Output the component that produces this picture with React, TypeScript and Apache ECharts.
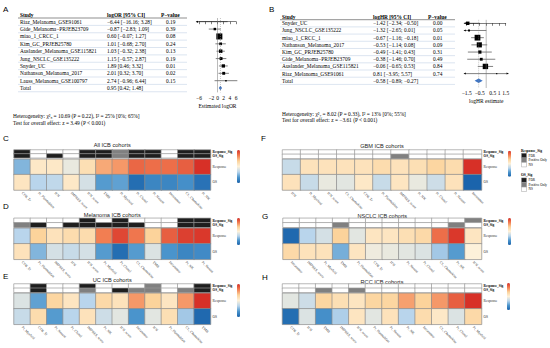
import React, { useEffect, useRef } from 'react';
import * as echarts from 'echarts';

// ---------- Panel A data (logOR) ----------
const studiesA = ['Riaz_Melanoma_GSE91061', 'Gide_Melanoma−PRJEB23709', 'miao_1_CRCC_1', 'Kim_GC_PRJEB25780', 'Auslander_Melanoma_GSE115821', 'Jung_NSCLC_GSE135222', 'Snyder_UC', 'Nathanson_Melanoma_2017', 'Lauss_Melanoma_GSE100797'];
const estA = [-6.44, -0.87, 0.6, 1.01, 1.03, 1.15, 1.89, 2.01, 2.74];
const loA = [-16.16, -2.83, -0.07, -0.68, -0.32, -0.57, 0.46, 0.32, -0.96];
const hiA = [3.28, 1.09, 1.27, 2.7, 2.38, 2.87, 3.32, 3.7, 6.44];
const pA = ['0.19', '0.39', '0.08', '0.24', '0.13', '0.19', '0.01', '0.02', '0.15'];
const weightA = [1, 5, 30, 6, 10, 7, 9, 7, 2];
const totalA = [0.95, 0.42, 1.48];
const hetA = 'Heterogeneity: χ²₈ = 10.69 (P = 0.22), I² = 25% [0%; 65%]';
const testA = 'Test for overall effect: z = 3.49 (P < 0.001)';

// ---------- Panel B data (logHR) ----------
const studiesB = ['Snyder_UC', 'Jung_NSCLC_GSE135222', 'miao_1_CRCC_1', 'Nathanson_Melanoma_2017', 'Kim_GC_PRJEB25780', 'Gide_Melanoma−PRJEB23709', 'Auslander_Melanoma_GSE115821', 'Riaz_Melanoma_GSE91061'];
const estB = [-1.42, -1.32, -0.67, -0.53, -0.49, -0.38, -0.06, 0.81];
const loB = [-2.34, -2.65, -1.16, -1.14, -1.41, -1.46, -0.65, -3.95];
const hiB = [-0.5, 0.01, -0.18, 0.08, 0.43, 0.7, 0.53, 5.57];
const pB = ['0.00', '0.05', '0.01', '0.09', '0.31', '0.49', '0.84', '0.74'];
const weightB = [9, 3, 25, 20, 8, 6, 22, 1];
const totalB = [-0.58, -0.89, -0.27];
const hetB = 'Heterogeneity: χ²₇ = 8.02 (P = 0.33), I² = 13% [0%; 55%]';
const testB = 'Test for overall effect: z = −3.61 (P < 0.001)';

// ---------- Heatmap data ----------
// significance: 0 = NS, 1 = Positive Only, 2 = FDR
const labelsC = ['CD8_Tr', 'Pt_Plasmablast', 'IFN', 'IMPRES_score', 'IFN_score', 'TMB', 'Pt_Myeloid', 'Pt_Clonal', 'Pt_Neoant', 'Intratumor', 'CL_Chemokine', 'Pt_NK'];
const respC = [-1.5, 0.3, 0.3, -0.3, 0.6, 1.5, 1.7, 2.3, 2.2, 2.2, 2.4, 3];
const osC = [0.4, -1, -0.9, 0.3, -0.6, -1.9, -1.8, -2.8, -2.3, -2.3, -2.1, -2.7];
const rsigC = [2, 0, 0, 0, 2, 2, 1, 2, 2, 0, 2, 2];
const osigC = [2, 0, 2, 0, 2, 2, 1, 2, 2, 0, 2, 2];

const labelsD = ['CD8_Tr', 'Pt_Plasmablast', 'IMPRES_score', 'IFN', 'IFN_score', 'Pt_Myeloid', 'Pt_Clonal', 'CL_Chemokine', 'TMB', 'Intratumor', 'Pt_NK', 'Pt_Neoant'];
const respD = [-1, 1, 0.5, 0.7, 0.7, 2, 2.7, 2.1, 1, 2.4, 2.8, 2.9];
const osD = [0.5, -1.5, -0.6, -0.8, -0.6, -1.9, -2.8, -1.9, -0.5, -2, -2.3, -2.2];
const rsigD = [0, 0, 0, 0, 2, 0, 2, 0, 0, 0, 2, 2];
const osigD = [1, 2, 0, 2, 2, 2, 2, 2, 0, 0, 2, 2];

const labelsE = ['Pt_Myeloid', 'CD8_Tr', 'Pt_Neoant', 'Pt_Clonal', 'IMPRES_score', 'Pt_NK', 'IFN_score', 'Intratumor', 'IFN', 'Pt_Plasmablast', 'CL_Chemokine', 'TMB'];
const respE = [-0.5, -1.8, 0.9, 0.4, -1, 0.8, 0.5, 1.7, 1, 0.4, 1.7, 3];
const osE = [-0.8, 0.7, -1.9, -1, 0.5, -0.7, -0.4, -2, -0.4, 0.6, -1.2, -2.9];
const rsigE = [0, 2, 0, 0, 2, 0, 0, 0, 1, 0, 0, 2];
const osigE = [0, 2, 0, 0, 1, 0, 2, 1, 1, 0, 1, 2];

const labelsF = ['IFN', 'Pt_Myeloid', 'IFN_score', 'CL_Chemokine', 'CD8_Tr', 'Pt_Plasmablast', 'IMPRES_score', 'Pt_NK', 'Pt_Clonal', 'Pt_Neoant', 'Intratumor'];
const respF = [-0.8, 0.5, 0.5, 0.5, 0.5, 0.7, 0.5, 0.6, 0.9, 0.7, 3];
const osF = [0.5, -0.8, -0.3, -0.4, 0.3, -0.8, 0.4, -0.3, -0.7, 0.5, -3];
const rsigF = [0, 0, 0, 0, 0, 0, 0, 0, 0, 0, 0];
const osigF = [0, 0, 0, 0, 0, 0, 1, 0, 0, 0, 0];

const labelsG = ['Intratumor', 'IMPRES_score', 'Pt_Myeloid', 'TMB', 'Pt_Plasmablast', 'CD8_Tr', 'IFN', 'Pt_Neoant', 'Pt_Clonal', 'CL_Chemokine', 'Pt_NK', 'IFN_score'];
const respG = [-2.9, -1, -0.6, 1, -0.4, 0.4, 0.4, 0.6, 0.8, 2.2, 2.9, 0.4];
const osG = [0.8, 0.5, 0.5, -1.6, 0.4, -0.2, -0.3, -0.4, -0.5, -1.2, -1.9, 0];
const rsigG = [0, 0, 0, 0, 0, 0, 0, 0, 0, 0, 0, 1];
const osigG = [0, 0, 0, 1, 0, 0, 0, 0, 0, 0, 1, 0];

const labelsH = ['CD8_Tr', 'IFN', 'TMB', 'IMPRES_score', 'IFN_score', 'Pt_Plasmablast', 'Pt_Neoant', 'Pt_NK', 'Intratumor', 'CL_Chemokine', 'Pt_Clonal', 'Pt_Myeloid'];
const respH = [-0.4, -0.7, 0.9, 0.6, 0.4, 0.9, 0.9, 1.6, 1, 1.7, 2.4, 3];
const osH = [-2.8, -0.5, -2.1, -1.1, 0.4, -0.4, 0.5, -1, 0.7, 0.3, -0.5, 0.8];
const rsigH = [0, 0, 0, 0, 0, 0, 0, 0, 0, 0, 0, 0];
const osigH = [0, 0, 1, 0, 1, 0, 0, 0, 0, 0, 0, 0];

const titles = ['All ICB cohorts', 'Melanoma ICB cohorts', 'UC ICB cohorts', 'GBM ICB cohorts', 'NSCLC ICB cohorts', 'RCC ICB cohorts'];
const sigNames = ['FDR', 'Positive Only', 'NS'];

const SERIF = 'Liberation Serif';
const SANS = 'Liberation Sans';
const heatColors = ['#1b64ac', '#4a94cc', '#b9d5ec', '#fdf1da', '#fcd39b', '#f27e52', '#d73027'];
const sigColors = ['#ffffff', '#808080', '#1e1e1e'];

const fmt = (v: number) => v.toFixed(2).replace('-', '−');

function buildOption() {
  const series: any[] = [];
  const grids: any[] = [];
  const xAxes: any[] = [];
  const yAxes: any[] = [];
  const graphics: any[] = [];
  const visualMaps: any[] = [];

  // ----- forest plots -----
  const forestDefs = [
    { studies: studiesA, est: estA, lo: loA, hi: hiA, p: pA, w: weightA, total: totalA, het: hetA, test: testA,
      left: 199, width: 37, top: 18, height: 74.5, yMax: 9.6, min: -6, max: 6, interval: 2, clipLo: -7, clipHi: 6.5,
      name: 'Estimated logOR', col: 'logOR [95% CI]', tx: [20, 107, 166], hx: [20, 107, 161], lineX: [18, 187],
      hetX: 13, hetY: [115.5, 123.3], letter: 'A', letterPos: [3, 5], sizeK: 1.1,
      hide: [-4] },
    { studies: studiesB, est: estB, lo: loB, hi: hiB, p: pB, w: weightB, total: totalB, het: hetB, test: testB,
      left: 466.7, width: 39, top: 19.7, height: 68.3, yMax: 9.0, min: -1.5, max: 1.5, interval: 0.5, clipLo: -1.72, clipHi: 1.72,
      name: 'logHR estimate', col: 'logHR [95% CI]', tx: [282, 373, 433], hx: [282, 373, 428], lineX: [280, 455],
      hetX: 282, hetY: [113.5, 120], letter: 'B', letterPos: [269, 5], sizeK: 1.15,
      hide: [-1, 0] },
  ];

  forestDefs.forEach((f, gi) => {
    const n = f.studies.length;
    grids.push({ left: f.left, top: f.top, width: f.width, height: f.height });
    xAxes.push({
      gridIndex: gi, type: 'value', min: f.min, max: f.max, interval: f.interval,
      axisLine: { lineStyle: { color: '#000', width: 0.5 } },
      axisTick: { length: 2.5, lineStyle: { color: '#000', width: 0.5 } },
      splitLine: { show: false },
      axisLabel: { fontSize: 5.5, fontFamily: SERIF, color: '#000', margin: 2,
        formatter: (v: number) => (f.hide.indexOf(v) >= 0 ? '' : String(v).replace('-', '−')) },
      name: f.name, nameLocation: 'middle', nameGap: 10,
      nameTextStyle: { fontSize: 5.5, fontFamily: SERIF, color: '#000' },
    });
    yAxes.push({ gridIndex: gi, type: 'value', min: -0.5, max: f.yMax, inverse: true, show: false });

    const rowY = (i: number) => f.top + (i + 0.5) / (f.yMax + 0.5) * f.height;
    const pitch = f.height / (f.yMax + 0.5);

    const data = f.studies.map((_, i) => [f.est[i], i, f.lo[i], f.hi[i], f.w[i]]);
    series.push({
      type: 'custom', xAxisIndex: gi, yAxisIndex: gi, silent: true, clip: false,
      encode: { x: [0, 2, 3], y: 1 },
      data,
      renderItem: (params: any, api: any) => {
        const est = api.value(0), row = api.value(1), lo = api.value(2), hi = api.value(3), w = api.value(4);
        const l = Math.max(lo, f.clipLo), h = Math.min(hi, f.clipHi);
        const p1 = api.coord([l, row]);
        const p2 = api.coord([h, row]);
        const pc = api.coord([est, row]);
        const s = Math.sqrt(w) * f.sizeK;
        const children: any[] = [
          { type: 'line', shape: { x1: p1[0], y1: p1[1], x2: p2[0], y2: p2[1] }, style: { stroke: '#000', lineWidth: 0.5 } },
          { type: 'rect', shape: { x: pc[0] - s / 2, y: pc[1] - s / 2, width: s, height: s }, style: { fill: '#000' } },
        ];
        if (lo < f.clipLo) children.push({ type: 'polygon', shape: { points: [[p1[0], p1[1]], [p1[0] + 2, p1[1] - 1], [p1[0] + 2, p1[1] + 1]] }, style: { fill: '#000' } });
        if (hi > f.clipHi) children.push({ type: 'polygon', shape: { points: [[p2[0], p2[1]], [p2[0] - 2, p2[1] - 1], [p2[0] - 2, p2[1] + 1]] }, style: { fill: '#000' } });
        return { type: 'group', children };
      },
    });
    series.push({
      type: 'custom', xAxisIndex: gi, yAxisIndex: gi, silent: true, clip: false,
      encode: { x: [0, 2, 3], y: 1 },
      data: [[f.total[0], n, f.total[1], f.total[2]]],
      renderItem: (params: any, api: any) => {
        const row = api.value(1);
        const a = api.coord([api.value(2), row]);
        const b = api.coord([api.value(0), row]);
        const c = api.coord([api.value(3), row]);
        return { type: 'polygon', shape: { points: [[a[0], a[1]], [b[0], b[1] - 2.2], [c[0], c[1]], [b[0], b[1] + 2.2]] }, style: { fill: '#3d74c4' } };
      },
    });
    series.push({ type: 'line', xAxisIndex: gi, yAxisIndex: gi, silent: true, symbol: 'none',
      data: [[0, -0.5], [0, f.yMax]], lineStyle: { color: '#777', width: 0.5 } });
    series.push({ type: 'line', xAxisIndex: gi, yAxisIndex: gi, silent: true, symbol: 'none',
      data: [[f.total[0], -0.5], [f.total[0], f.yMax]], lineStyle: { color: '#888', width: 0.5, type: [1, 1] } });

    // table
    const tStyle = (text: string, x: number, y: number, bold = false) => ({
      type: 'text', silent: true, x, y,
      style: { text, fontSize: 5.4, fontFamily: SERIF, fontWeight: bold ? 'bold' : 'normal', fill: '#000', align: 'left', verticalAlign: 'middle' },
    });
    const headY = f.top - 3;
    graphics.push(tStyle('Study', f.hx[0], headY, true));
    graphics.push(tStyle(f.col, f.hx[1], headY, true));
    graphics.push(tStyle('P−value', f.hx[2], headY, true));
    graphics.push({ type: 'line', silent: true, shape: { x1: f.lineX[0], y1: f.top, x2: f.lineX[1], y2: f.top }, style: { stroke: '#444', lineWidth: 0.6 } });
    for (let i = 0; i <= n; i++) {
      const y = rowY(i);
      if (i < n) {
        graphics.push(tStyle(f.studies[i], f.tx[0], y));
        graphics.push(tStyle(`${fmt(f.est[i])} [${fmt(f.lo[i])}; ${fmt(f.hi[i])}]`, f.tx[1], y));
        graphics.push(tStyle(f.p[i], f.tx[2], y));
      } else {
        graphics.push(tStyle('Total', f.tx[0], y));
        graphics.push(tStyle(`${fmt(f.total[0])} [${fmt(f.total[1])}; ${fmt(f.total[2])}]`, f.tx[1], y));
      }
      graphics.push({ type: 'line', silent: true, shape: { x1: f.lineX[0], y1: y + pitch / 2, x2: f.lineX[1], y2: y + pitch / 2 }, style: { stroke: '#b9cbe0', lineWidth: 0.5 } });
    }
    graphics.push(tStyle(f.het, f.hetX, f.hetY[0]));
    graphics.push(tStyle(f.test, f.hetX, f.hetY[1]));
    graphics.push({ type: 'text', silent: true, x: f.letterPos[0], y: f.letterPos[1],
      style: { text: f.letter, fontSize: 8, fontFamily: SANS, fill: '#000', align: 'left', verticalAlign: 'top' } });
  });

  // ----- heatmaps -----
  const panels = [
    { labels: labelsC, resp: respC, os: osC, rsig: rsigC, osig: osigC },
    { labels: labelsD, resp: respD, os: osD, rsig: rsigD, osig: osigD },
    { labels: labelsE, resp: respE, os: osE, rsig: rsigE, osig: osigE },
    { labels: labelsF, resp: respF, os: osF, rsig: rsigF, osig: osigF },
    { labels: labelsG, resp: respG, os: osG, rsig: rsigG, osig: osigG },
    { labels: labelsH, resp: respH, os: osH, rsig: rsigH, osig: osigH },
  ];
  const layouts = [
    { left: 14, width: 196.5, aTop: 150, aH: 7.8, mTop: 159.3, mH: 30.7, bar: [237, 150, 33], titleY: 145, letter: 'C', lp: [3, 134] },
    { left: 14, width: 196.5, aTop: 218.3, aH: 9, mTop: 228.3, mH: 31, bar: [237, 218, 27], titleY: 215, letter: 'D', lp: [3, 202] },
    { left: 14, width: 196.5, aTop: 284, aH: 8.5, mTop: 293.3, mH: 31, bar: [237, 284, 33], titleY: 279.5, letter: 'E', lp: [3, 272.5] },
    { left: 282.5, width: 199, aTop: 150, aH: 8.6, mTop: 159.3, mH: 30.7, bar: [508, 150.7, 26], titleY: 146, letter: 'F', lp: [261, 134] },
    { left: 283, width: 198.5, aTop: 218.3, aH: 9, mTop: 228.3, mH: 31, bar: [508, 218, 27], titleY: 215.7, letter: 'G', lp: [262, 212] },
    { left: 282.5, width: 199, aTop: 284, aH: 8.5, mTop: 293.3, mH: 31, bar: [507, 283, 27], titleY: 281.7, letter: 'H', lp: [262, 273.5] },
  ];

  const annotSeriesIdx: number[] = [];
  panels.forEach((p, k) => {
    const L = layouts[k];
    const gA = grids.length;
    grids.push({ left: L.left, top: L.aTop, width: L.width, height: L.aH });
    const gM = grids.length;
    grids.push({ left: L.left, top: L.mTop, width: L.width, height: L.mH });

    xAxes.push({ gridIndex: gA, type: 'category', data: p.labels, show: false });
    yAxes.push({ gridIndex: gA, type: 'category', data: ['OS_Sig', 'Response_Sig'], position: 'right',
      axisLine: { show: false }, axisTick: { show: false }, splitLine: { show: false },
      axisLabel: { interval: 0, hideOverlap: false, fontSize: 3.4, fontWeight: 'bold', fontFamily: SERIF, color: '#000', margin: 2 } });
    xAxes.push({ gridIndex: gM, type: 'category', data: p.labels, position: 'bottom',
      axisLine: { show: false }, axisTick: { show: false }, splitLine: { show: false },
      axisLabel: { rotate: -45, interval: 0, fontSize: 3.6, fontFamily: SERIF, color: '#333', margin: 2.5 } });
    yAxes.push({ gridIndex: gM, type: 'category', data: ['OS', 'Response'], position: 'right',
      axisLine: { show: false }, axisTick: { show: false }, splitLine: { show: false },
      axisLabel: { interval: 0, fontSize: 3.6, fontFamily: SERIF, color: '#333', margin: 2 } });

    const aData: any[] = [];
    const mData: any[] = [];
    p.labels.forEach((_, j) => {
      aData.push([j, 1, p.rsig[j]]);
      aData.push([j, 0, p.osig[j]]);
      mData.push([j, 1, p.resp[j]]);
      mData.push([j, 0, p.os[j]]);
    });
    annotSeriesIdx.push(series.length);
    series.push({ type: 'heatmap', xAxisIndex: gA, yAxisIndex: gA, data: aData, silent: true,
      itemStyle: { borderColor: '#9a9a9a', borderWidth: 0.7 }, emphasis: { disabled: true } });
    const mi = series.length;
    series.push({ type: 'heatmap', xAxisIndex: gM, yAxisIndex: gM, data: mData, silent: true,
      itemStyle: { borderColor: '#8c8c8c', borderWidth: 0.7 }, emphasis: { disabled: true } });
    visualMaps.push({ type: 'continuous', seriesIndex: mi, min: -3, max: 3, inRange: { color: heatColors },
      show: true, calculable: false, hoverLink: false, orient: 'vertical', padding: 0,
      left: L.bar[0], top: L.bar[1], itemWidth: 3, itemHeight: L.bar[2], textStyle: { fontSize: 3 } });

    graphics.push({ type: 'text', silent: true, x: L.left + L.width / 2, y: L.titleY,
      style: { text: titles[k], fontSize: 5.6, fontFamily: SANS, fill: '#222', align: 'center', verticalAlign: 'middle' } });
    graphics.push({ type: 'text', silent: true, x: L.lp[0], y: L.lp[1],
      style: { text: L.letter, fontSize: 8, fontFamily: SANS, fill: '#000', align: 'left', verticalAlign: 'top' } });
  });
  visualMaps.push({ type: 'piecewise', seriesIndex: annotSeriesIdx, show: false,
    pieces: [{ value: 0, color: sigColors[0] }, { value: 1, color: sigColors[1] }, { value: 2, color: sigColors[2] }] });

  // legend (Response_Sig / OS_Sig)
  const legTitles = ['Response_Sig', 'OS_Sig'];
  const legTops = [150.7, 175.3];
  legTitles.forEach((t, li) => {
    graphics.push({ type: 'text', silent: true, x: 521, y: legTops[li],
      style: { text: t, fontSize: 3.6, fontWeight: 'bold', fontFamily: SERIF, fill: '#000', align: 'left', verticalAlign: 'middle' } });
    sigNames.forEach((nm, si) => {
      const y = legTops[li] + 2.6 + si * 4.6;
      graphics.push({ type: 'rect', silent: true, shape: { x: 521.5, y, width: 5, height: 4.4 },
        style: { fill: sigColors[2 - si], stroke: '#888', lineWidth: 0.4 } });
      graphics.push({ type: 'text', silent: true, x: 528.5, y: y + 2.2,
        style: { text: nm, fontSize: 3.4, fontFamily: SERIF, fill: '#000', align: 'left', verticalAlign: 'middle' } });
    });
  });

  return {
    animation: false,
    backgroundColor: '#ffffff',
    grid: grids,
    xAxis: xAxes,
    yAxis: yAxes,
    visualMap: visualMaps,
    series,
    graphic: graphics,
  };
}

export default function App() {
  const ref = useRef<HTMLDivElement>(null);
  useEffect(() => {
    if (!ref.current) return;
    const chart = echarts.init(ref.current, undefined, { renderer: 'svg' });
    chart.setOption(buildOption() as any);
    return () => chart.dispose();
  }, []);
  return <div ref={ref} style={{ position: 'fixed', left: 0, top: 0, width: 550, height: 348, background: '#fff' }} />;
}
